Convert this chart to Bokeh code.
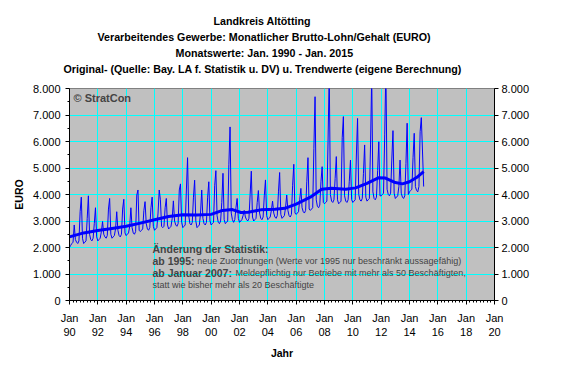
from bokeh.plotting import figure
from bokeh.models import Range1d, LinearAxis, FixedTicker, Label, ColumnDataSource, Title
from bokeh.embed import file_html
from bokeh.resources import INLINE

# ---------------- data ----------------
title_lines = [
    "Landkreis Altötting",
    "Verarbeitendes Gewerbe: Monatlicher Brutto-Lohn/Gehalt (EURO)",
    "Monatswerte: Jan. 1990 - Jan. 2015",
    "Original- (Quelle: Bay. LA f. Statistik u. DV) u. Trendwerte (eigene Berechnung)",
]

# monthly original values (EURO), Jan..Dec
v1990 = [2000, 2080, 2150, 2200, 2850, 2300, 2200, 2150, 2250, 3350, 3900, 2350]
v1991 = [2150, 2200, 2250, 3100, 3950, 2500, 2300, 2250, 2350, 2900, 3500, 2400]
v1992 = [2250, 2300, 2350, 2600, 2980, 2500, 2400, 2350, 2450, 3450, 3850, 2500]
v1993 = [2350, 2400, 2450, 2700, 3350, 2650, 2450, 2400, 2500, 3450, 3820, 2550]
v1994 = [2450, 2500, 2550, 2800, 3500, 2750, 2550, 2500, 2600, 3980, 4170, 2650]
v1995 = [2600, 2650, 2700, 3400, 3730, 2900, 2700, 2650, 2750, 3500, 3900, 2800]
v1996 = [2650, 2700, 2750, 3300, 4170, 3800, 2800, 2750, 2800, 3500, 3850, 2850]
v1997 = [2700, 2750, 2800, 3100, 3760, 3000, 2850, 2800, 2900, 4170, 4400, 2950]
v1998 = [2750, 2800, 2850, 4170, 5390, 3200, 2900, 2850, 2950, 3900, 4540, 3000]
v1999 = [2750, 2800, 2850, 3300, 4170, 3100, 2900, 2850, 2950, 3900, 4480, 3000]
v2000 = [2850, 2900, 2950, 4350, 4900, 3200, 2950, 2900, 3000, 3700, 4800, 3050]
v2001 = [2900, 2950, 3000, 5140, 6550, 3300, 3050, 2950, 3050, 3500, 3850, 3100]
v2002 = [2950, 3000, 3050, 3200, 3400, 3150, 3050, 3000, 3100, 4000, 4880, 3150]
v2003 = [3000, 3050, 3100, 3700, 4150, 3300, 3100, 3050, 3150, 3950, 4550, 3200]
v2004 = [3050, 3100, 3150, 3400, 3750, 3300, 3150, 3100, 3200, 4100, 4830, 3250]
v2005 = [3100, 3150, 3200, 3500, 3980, 3400, 3200, 3150, 3250, 4350, 5140, 3300]
v2006 = [3250, 3300, 3350, 3800, 4230, 3500, 3350, 3300, 3400, 4480, 5390, 3450]
v2007 = [3400, 3450, 3500, 5740, 7690, 3800, 3550, 3500, 3600, 4480, 5050, 3700]
v2008 = [3650, 3700, 3750, 5990, 8600, 4000, 3750, 3700, 3800, 4600, 5430, 3800]
v2009 = [3650, 3700, 3750, 6140, 6940, 3950, 3750, 3700, 3800, 4500, 5300, 3800]
v2010 = [3700, 3750, 3800, 5490, 6870, 4000, 3800, 3750, 3850, 4800, 5870, 3900]
v2011 = [3750, 3800, 3850, 5870, 8500, 4100, 3850, 3800, 3900, 4900, 5990, 3950]
v2012 = [3950, 4000, 4050, 6250, 8800, 4200, 4000, 3950, 4050, 5300, 6410, 4050]
v2013 = [3850, 3900, 3950, 4300, 5300, 4050, 3900, 3850, 3950, 5170, 6690, 4000]
v2014 = [4100, 4150, 4200, 5390, 6310, 4300, 4150, 4100, 4300, 6370, 6900, 5640]
v2015 = [4300]

years = list(range(1990, 2016))
yearly_values = [v1990, v1991, v1992, v1993, v1994, v1995, v1996, v1997, v1998,
                 v1999, v2000, v2001, v2002, v2003, v2004, v2005, v2006, v2007,
                 v2008, v2009, v2010, v2011, v2012, v2013, v2014, v2015]

# trend values (own calculation), read at these dates
trend_x = [1990.0, 1991.0, 1992.0, 1993.0, 1994.0, 1995.0, 1996.0, 1997.0, 1998.0,
           1999.0, 2000.0, 2000.8, 2001.5, 2002.1, 2002.6, 2003.5, 2004.5, 2005.2,
           2006.0, 2007.0, 2007.8, 2008.5, 2009.5, 2010.2, 2011.0, 2011.8, 2012.3,
           2013.0, 2013.5, 2014.0, 2014.5, 2015.0]
trend_y = [2400, 2550, 2640, 2720, 2800, 2920, 3050, 3170, 3240,
           3230, 3250, 3400, 3430, 3320, 3330, 3420, 3440, 3480,
           3640, 3900, 4200, 4240, 4200, 4250, 4420, 4630, 4620,
           4450, 4400, 4480, 4640, 4860]

x_ticks = [1990, 1992, 1994, 1996, 1998, 2000, 2002, 2004, 2006, 2008, 2010,
           2012, 2014, 2016, 2018, 2020]
x_tick_labels = ["Jan\n90", "Jan\n92", "Jan\n94", "Jan\n96", "Jan\n98", "Jan\n00",
                 "Jan\n02", "Jan\n04", "Jan\n06", "Jan\n08", "Jan\n10", "Jan\n12",
                 "Jan\n14", "Jan\n16", "Jan\n18", "Jan\n20"]
y_ticks = [0, 1000, 2000, 3000, 4000, 5000, 6000, 7000, 8000]
y_tick_labels = ["0", "1.000", "2.000", "3.000", "4.000", "5.000", "6.000", "7.000", "8.000"]

note_head = "Änderung der Statistik:"
note_lines_bold = ["ab 1995:", "ab Januar 2007:", ""]
note_lines_text = ["neue Zuordnungen (Werte vor 1995 nur beschränkt aussagefähig)",
                   "Meldepflichtig nur Betriebe mit mehr als 50 Beschäftigten,",
                   "statt wie bisher mehr als  20 Beschäftigte"]

# ---------------- build ----------------
xs, ys = [], []
for yr, vals in zip(years, yearly_values):
    for m, v in enumerate(vals):
        xs.append(yr + m / 12.0)
        ys.append(v)

FONT = "Liberation Sans"
FRAME_LEFT = 69

p = figure(width=553, height=367, x_range=Range1d(1990, 2020), y_range=Range1d(0, 8000),
           output_backend="svg", toolbar_location=None,
           min_border_left=69, min_border_right=59, min_border_top=88, min_border_bottom=67)
p.title.visible = False
p.background_fill_color = "#C0C0C0"
p.border_fill_color = "white"
p.outline_line_color = "#808080"
p.outline_line_width = 1

# grids
p.xgrid.ticker = FixedTicker(ticks=x_ticks)
p.ygrid.ticker = FixedTicker(ticks=y_ticks)
p.grid.grid_line_color = "#00FFFF"
p.grid.grid_line_width = 1

# x axis
xminor = [1990 + q / 4.0 for q in range(0, 121)]
p.xaxis.ticker = FixedTicker(ticks=x_ticks, minor_ticks=xminor)
p.xaxis.major_label_overrides = {t: l for t, l in zip(x_ticks, x_tick_labels)}
p.xaxis.axis_label = "Jahr"
p.xaxis.axis_label_text_font = FONT
p.xaxis.axis_label_text_font_style = "bold"
p.xaxis.axis_label_text_font_size = "10.5px"
p.xaxis.axis_label_text_color = "black"
p.xaxis.axis_label_standoff = 6
p.xaxis.major_label_text_font = FONT
p.xaxis.major_label_text_font_size = "11px"
p.xaxis.major_label_text_color = "black"
p.xaxis.major_label_standoff = 7
p.xaxis.major_tick_out = 4
p.xaxis.major_tick_in = 0
p.xaxis.minor_tick_out = 2
p.xaxis.minor_tick_in = 0
p.xaxis.axis_line_color = "black"

# left y axis
yminor = [500 + 1000 * k for k in range(8)]
p.yaxis.ticker = FixedTicker(ticks=y_ticks, minor_ticks=yminor)
p.yaxis.major_label_overrides = {t: l for t, l in zip(y_ticks, y_tick_labels)}
p.yaxis.axis_label = "EURO"
p.yaxis.axis_label_text_font = FONT
p.yaxis.axis_label_text_font_style = "bold"
p.yaxis.axis_label_text_font_size = "10.5px"
p.yaxis.axis_label_text_color = "black"
p.yaxis.axis_label_standoff = 5
p.yaxis.major_label_text_font = FONT
p.yaxis.major_label_text_font_size = "11px"
p.yaxis.major_label_text_color = "black"
p.yaxis.major_label_standoff = 5
p.yaxis.major_tick_out = 4
p.yaxis.major_tick_in = 0
p.yaxis.minor_tick_out = 2
p.yaxis.minor_tick_in = 0

# right y axis
ry = LinearAxis(ticker=FixedTicker(ticks=y_ticks))
ry.major_label_overrides = {t: l for t, l in zip(y_ticks, y_tick_labels)}
ry.major_label_text_font = FONT
ry.major_label_text_font_size = "11px"
ry.major_label_text_color = "black"
ry.major_label_standoff = 3
ry.major_tick_out = 4
ry.major_tick_in = 0
ry.minor_tick_line_color = None
p.add_layout(ry, "right")

# data
src = ColumnDataSource(dict(x=xs, y=ys))
p.line("x", "y", source=src, line_color="#0000FF", line_width=1)
tsrc = ColumnDataSource(dict(x=trend_x, y=trend_y))
p.line("x", "y", source=tsrc, line_color="#0000FF", line_width=3)

# titles above the frame (first added = nearest to frame)
p.add_layout(Title(text=" ", text_font=FONT, text_font_size="9px", standoff=1), "above")
title_left = [213, 97, 175, 63]
for t, lx in reversed(list(zip(title_lines, title_left))):
    p.add_layout(Title(text=t, text_font=FONT, text_font_size="10.7px", text_font_style="bold",
                       align="left", offset=lx - FRAME_LEFT, standoff=2,
                       text_color="black"), "above")

p.add_layout(Label(x=1990.28, y=7634, text="© StratCon", text_font=FONT, text_font_size="11px",
                   text_font_style="bold", text_align="left", text_baseline="middle"))

p.add_layout(Label(x=1995.86, y=1962, text=note_head, text_font=FONT, text_font_size="10.5px",
                   text_font_style="bold", text_align="left", text_baseline="middle"))
note_y = [1472, 1019, 585]
note_text_x = [1999.01, 2001.72, 1995.86]
for b, t, yy, tx in zip(note_lines_bold, note_lines_text, note_y, note_text_x):
    if b:
        p.add_layout(Label(x=1995.86, y=yy, text=b, text_font=FONT, text_font_size="10.5px",
                           text_font_style="bold", text_align="left", text_baseline="middle"))
    p.add_layout(Label(x=tx, y=yy, text=t, text_font=FONT, text_font_size="9px",
                       text_align="left", text_baseline="middle"))

open("out.html", "w").write(file_html(p, INLINE))
